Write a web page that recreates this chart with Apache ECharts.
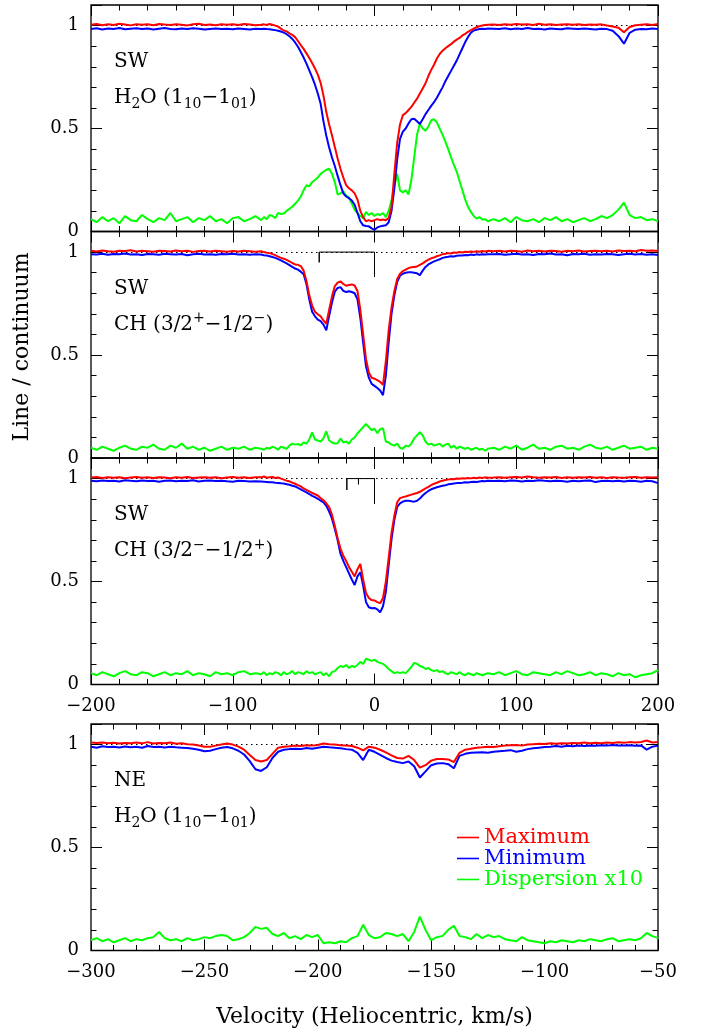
<!DOCTYPE html>
<html>
<head>
<meta charset="utf-8">
<title>Line / continuum</title>
<script src="https://cdn.jsdelivr.net/npm/echarts@6/dist/echarts.min.js"></script>
<style>
  html, body { margin: 0; padding: 0; background: #fff; }
  #chart { width: 703px; height: 1034px; }
</style>
</head>
<body>
<div id="chart"></div>
<script>
// VELOCITY GRIDS (km/s): coarse wings, finer core
const vSW = []
for (let v = -200; v < -80; v += 4) vSW.push(v)
for (let v = -80; v <= 80; v += 2) vSW.push(v)
for (let v = 84; v <= 200; v += 4) vSW.push(v)

const vNE = []
for (let v = -300; v <= -50; v += 2.5) vNE.push(v)

// SW H2O 1_10-1_01
const swH2oMax = [
  1.004, 1.008, 1.002, 1.006, 1.003, 1.009, 1.005, 1.001, 1.007, 1.004,
  1.006, 1.002, 1.008, 1.005, 1.003, 1.007, 1.004, 1.001, 1.006, 1.009,
  1.003, 1.005, 1.002, 1.007, 1.004, 1.006, 1.003, 1.008, 1.005, 1.002,
  1.004, 1.006, 1.003, 1.008, 1.004, 1.000, 0.995, 0.985, 0.976, 0.972,
  0.962, 0.955, 0.944, 0.925, 0.905, 0.887, 0.865, 0.843, 0.818, 0.792,
  0.762, 0.722, 0.660, 0.580, 0.520, 0.467, 0.410, 0.355, 0.305, 0.262,
  0.225, 0.210, 0.200, 0.185, 0.155, 0.100, 0.070, 0.050, 0.055, 0.050,
  0.055, 0.060, 0.055, 0.058, 0.055, 0.065, 0.120, 0.280, 0.430, 0.520,
  0.565, 0.575, 0.590, 0.605, 0.625, 0.645, 0.670, 0.695, 0.720, 0.755,
  0.785, 0.810, 0.840, 0.862, 0.878, 0.890, 0.900, 0.910, 0.922, 0.932,
  0.940, 0.952, 0.960, 0.970, 0.978, 0.985, 0.992, 0.997, 1.000, 1.003,
  1.004,
  1.005, 1.003, 1.007, 1.004, 1.008, 1.005, 1.006, 1.003, 1.009, 1.004,
  1.006, 1.003, 1.005, 1.007, 1.004, 1.006, 1.003, 1.005, 1.004, 1.006,
  1.000, 0.996, 0.990, 0.968, 0.993, 1.002, 1.004, 1.006, 1.003, 1.008
]
const swH2oMin = [
  0.983, 0.987, 0.981, 0.986, 0.984, 0.988, 0.982, 0.985, 0.987, 0.983,
  0.986, 0.981, 0.985, 0.988, 0.984, 0.982, 0.986, 0.983, 0.987, 0.985,
  0.981, 0.984, 0.986, 0.983, 0.985, 0.982, 0.986, 0.984, 0.981, 0.985,
  0.984, 0.985, 0.983, 0.982, 0.980, 0.978, 0.975, 0.971, 0.966, 0.958,
  0.948, 0.935, 0.918, 0.897, 0.872, 0.845, 0.815, 0.783, 0.750, 0.713,
  0.670, 0.620, 0.535, 0.465, 0.408, 0.360, 0.318, 0.270, 0.225, 0.185,
  0.170, 0.162, 0.150, 0.130, 0.090, 0.050, 0.030, 0.027, 0.025, 0.015,
  0.008, 0.020, 0.025, 0.028, 0.030, 0.045, 0.100, 0.210, 0.350, 0.450,
  0.485, 0.500, 0.525, 0.545, 0.548, 0.535, 0.522, 0.545, 0.570, 0.590,
  0.610, 0.628, 0.650, 0.675, 0.700, 0.730, 0.755, 0.780, 0.805, 0.830,
  0.860, 0.890, 0.920, 0.945, 0.965, 0.976, 0.980, 0.983, 0.985, 0.984,
  0.986,
  0.985, 0.983, 0.987, 0.982, 0.986, 0.984, 0.988, 0.983, 0.985, 0.981,
  0.986, 0.984, 0.982, 0.987, 0.985, 0.983, 0.986, 0.984, 0.981, 0.985,
  0.983, 0.975, 0.950, 0.912, 0.965, 0.980, 0.984, 0.982, 0.986, 0.983
]
const swH2oDisp = [
  0.060, 0.045, 0.070, 0.050, 0.065, 0.040, 0.075, 0.055, 0.050, 0.080,
  0.060, 0.045, 0.065, 0.055, 0.090, 0.050, 0.060, 0.070, 0.045, 0.065,
  0.055, 0.075, 0.050, 0.060, 0.040, 0.065, 0.070, 0.050, 0.060, 0.075,
  0.055, 0.070, 0.060, 0.080, 0.075, 0.065, 0.090, 0.085, 0.087, 0.100,
  0.110, 0.120, 0.135, 0.150, 0.170, 0.200, 0.225, 0.220, 0.240, 0.250,
  0.262, 0.280, 0.290, 0.300, 0.305, 0.280, 0.240, 0.180, 0.185, 0.195,
  0.175, 0.165, 0.135, 0.105, 0.090, 0.075, 0.065, 0.095, 0.080, 0.090,
  0.075, 0.085, 0.080, 0.090, 0.070, 0.100, 0.150, 0.220, 0.280, 0.200,
  0.190, 0.200, 0.180, 0.250, 0.360, 0.470, 0.525, 0.500, 0.490, 0.510,
  0.540, 0.545, 0.530, 0.500, 0.470, 0.435, 0.400, 0.360, 0.325, 0.290,
  0.245, 0.200, 0.155, 0.120, 0.095, 0.075, 0.063, 0.070, 0.058, 0.060,
  0.050,
  0.060, 0.050, 0.065, 0.045, 0.070, 0.055, 0.050, 0.060, 0.045, 0.065,
  0.055, 0.070, 0.050, 0.060, 0.045, 0.055, 0.065, 0.050, 0.060, 0.075,
  0.065, 0.080, 0.105, 0.140, 0.080, 0.065, 0.070, 0.055, 0.060, 0.050
]

// SW CH 3/2+ - 1/2-
const swChPMax = [
  1.006, 1.003, 1.008, 1.004, 1.002, 1.007, 1.005, 1.009, 1.003, 1.006,
  1.004, 1.002, 1.007, 1.005, 1.003, 1.008, 1.004, 1.006, 1.001, 1.005,
  1.007, 1.003, 1.006, 1.004, 1.002, 1.005, 1.003, 1.006, 1.004, 1.002,
  1.004, 1.000, 0.997, 0.995, 0.990, 0.985, 0.978, 0.972, 0.968, 0.962,
  0.955, 0.947, 0.940, 0.938, 0.932, 0.910, 0.860, 0.790, 0.740, 0.710,
  0.698, 0.688, 0.668, 0.652, 0.720, 0.785, 0.835, 0.852, 0.858, 0.845,
  0.837, 0.840, 0.843, 0.838, 0.810, 0.720, 0.600, 0.480, 0.415, 0.390,
  0.385, 0.378, 0.370, 0.355, 0.470, 0.620, 0.730, 0.810, 0.870, 0.895,
  0.908, 0.915, 0.922, 0.926, 0.928, 0.930, 0.938, 0.945, 0.955, 0.963,
  0.970, 0.974, 0.980, 0.984, 0.990, 0.992, 0.995, 0.993, 0.998, 0.997,
  1.000, 0.998, 1.002, 1.000, 1.003, 1.001, 1.004, 1.002, 1.005, 1.003,
  1.006,
  1.004, 1.007, 1.003, 1.006, 1.005, 1.002, 1.008, 1.004, 1.006, 1.003,
  1.007, 1.005, 1.002, 1.006, 1.004, 1.008, 1.003, 1.005, 1.007, 1.004,
  1.006, 1.003, 1.008, 1.005, 1.007, 1.004, 1.010, 1.006, 1.008, 1.005
]
const swChPMin = [
  0.990, 0.988, 0.992, 0.987, 0.991, 0.989, 0.993, 0.988, 0.990, 0.986,
  0.991, 0.989, 0.987, 0.992, 0.990, 0.988, 0.991, 0.985, 0.990, 0.992,
  0.988, 0.990, 0.987, 0.991, 0.989, 0.992, 0.988, 0.990, 0.987, 0.990,
  0.988, 0.985, 0.983, 0.980, 0.976, 0.972, 0.966, 0.960, 0.952, 0.945,
  0.937, 0.928, 0.920, 0.915, 0.905, 0.892, 0.845, 0.770, 0.710, 0.688,
  0.672, 0.665, 0.648, 0.620, 0.690, 0.755, 0.808, 0.826, 0.830, 0.812,
  0.806, 0.810, 0.806, 0.800, 0.770, 0.680, 0.560, 0.445, 0.390, 0.360,
  0.350, 0.340, 0.328, 0.305, 0.400, 0.560, 0.700, 0.790, 0.855, 0.885,
  0.895, 0.900, 0.902, 0.902, 0.900, 0.897, 0.888, 0.910, 0.928, 0.940,
  0.948, 0.955, 0.960, 0.965, 0.972, 0.975, 0.977, 0.980, 0.979, 0.982,
  0.984, 0.983, 0.986, 0.985, 0.988, 0.986, 0.989, 0.987, 0.990, 0.988,
  0.990,
  0.989, 0.991, 0.987, 0.990, 0.992, 0.988, 0.990, 0.986, 0.991, 0.989,
  0.993, 0.988, 0.990, 0.985, 0.991, 0.989, 0.992, 0.987, 0.990, 0.988,
  0.991, 0.989, 0.986, 0.990, 0.992, 0.988, 0.991, 0.987, 0.990, 0.986
]
const swChPDisp = [
  0.050, 0.040, 0.055, 0.045, 0.035, 0.050, 0.060, 0.045, 0.040, 0.055,
  0.050, 0.065, 0.045, 0.040, 0.060, 0.050, 0.070, 0.045, 0.055, 0.040,
  0.050, 0.035, 0.045, 0.055, 0.040, 0.050, 0.045, 0.055, 0.040, 0.050,
  0.045, 0.040, 0.050, 0.045, 0.055, 0.050, 0.040, 0.055, 0.050, 0.045,
  0.060, 0.070, 0.065, 0.068, 0.062, 0.075, 0.070, 0.090, 0.125, 0.090,
  0.085, 0.080, 0.095, 0.130, 0.085, 0.075, 0.070, 0.072, 0.095, 0.075,
  0.080, 0.070, 0.090, 0.100, 0.120, 0.135, 0.150, 0.165, 0.150, 0.135,
  0.142, 0.120, 0.140, 0.145, 0.080, 0.075, 0.065, 0.060, 0.070, 0.050,
  0.045, 0.060, 0.055, 0.070, 0.095, 0.110, 0.125, 0.110, 0.080, 0.065,
  0.070, 0.060, 0.065, 0.070, 0.055, 0.065, 0.070, 0.050, 0.060, 0.045,
  0.055, 0.050, 0.045, 0.050, 0.040, 0.045, 0.050, 0.040, 0.045, 0.035,
  0.045,
  0.050, 0.040, 0.055, 0.045, 0.060, 0.040, 0.050, 0.065, 0.045, 0.050,
  0.040, 0.055, 0.060, 0.045, 0.050, 0.040, 0.055, 0.065, 0.050, 0.045,
  0.055, 0.040, 0.050, 0.060, 0.045, 0.050, 0.055, 0.040, 0.050, 0.045
]

// SW CH 3/2- - 1/2+
const swChMMax = [
  1.005, 1.008, 1.003, 1.006, 1.004, 1.007, 1.002, 1.005, 1.008, 1.004,
  1.006, 1.003, 1.007, 1.005, 1.002, 1.006, 1.004, 1.008, 1.003, 1.005,
  1.007, 1.004, 1.006, 1.002, 1.005, 1.008, 1.004, 1.006, 1.003, 1.007,
  1.006, 1.010, 1.004, 1.006, 1.008, 1.003, 1.005, 1.000, 0.995, 0.990,
  0.987, 0.980, 0.975, 0.968, 0.962, 0.952, 0.945, 0.938, 0.930, 0.924,
  0.918, 0.905, 0.895, 0.880, 0.862, 0.825, 0.770, 0.710, 0.660, 0.625,
  0.600, 0.570, 0.548, 0.525, 0.560, 0.585, 0.510, 0.445, 0.420, 0.410,
  0.408, 0.400, 0.395, 0.420, 0.500, 0.615, 0.735, 0.820, 0.885, 0.905,
  0.910, 0.913, 0.918, 0.922, 0.926, 0.930, 0.936, 0.944, 0.952, 0.960,
  0.968, 0.975, 0.980, 0.986, 0.990, 0.993, 0.995, 0.998, 0.997, 1.000,
  0.999, 1.002, 1.000, 1.003, 1.001, 1.004, 1.002, 1.005, 1.003, 1.006,
  1.004,
  1.005, 1.007, 1.004, 1.006, 1.008, 1.005, 1.010, 1.006, 1.004, 1.007,
  1.005, 1.008, 1.003, 1.006, 1.004, 1.007, 1.005, 1.008, 1.004, 1.006,
  1.003, 1.007, 1.005, 1.004, 1.006, 1.008, 1.004, 1.006, 1.005, 1.007
]
const swChMMin = [
  0.990, 0.987, 0.991, 0.988, 0.990, 0.986, 0.992, 0.989, 0.987, 0.991,
  0.988, 0.990, 0.985, 0.989, 0.991, 0.987, 0.990, 0.988, 0.992, 0.986,
  0.989, 0.991, 0.988, 0.990, 0.987, 0.985, 0.989, 0.988, 0.986, 0.987,
  0.986, 0.985, 0.984, 0.982, 0.982, 0.980, 0.979, 0.977, 0.976, 0.973,
  0.970, 0.965, 0.962, 0.955, 0.948, 0.940, 0.933, 0.925, 0.916, 0.910,
  0.902, 0.893, 0.885, 0.868, 0.840, 0.805, 0.755, 0.700, 0.635, 0.600,
  0.570, 0.540, 0.510, 0.483, 0.525, 0.545, 0.480, 0.400, 0.375, 0.370,
  0.372, 0.365, 0.350, 0.380, 0.450, 0.580, 0.705, 0.800, 0.862, 0.880,
  0.888, 0.892, 0.893, 0.890, 0.888, 0.892, 0.903, 0.918, 0.930, 0.940,
  0.948, 0.953, 0.958, 0.962, 0.965, 0.968, 0.972, 0.974, 0.976, 0.978,
  0.979, 0.980, 0.982, 0.981, 0.983, 0.985, 0.984, 0.986, 0.988, 0.987,
  0.989,
  0.988, 0.990, 0.987, 0.991, 0.989, 0.986, 0.990, 0.988, 0.992, 0.989,
  0.987, 0.990, 0.988, 0.985, 0.990, 0.987, 0.989, 0.991, 0.983, 0.988,
  0.990, 0.987, 0.989, 0.986, 0.990, 0.988, 0.985, 0.989, 0.987, 0.978
]
const swChMDisp = [
  0.055, 0.045, 0.060, 0.050, 0.040, 0.055, 0.065, 0.050, 0.045, 0.060,
  0.055, 0.040, 0.050, 0.060, 0.045, 0.055, 0.050, 0.065, 0.045, 0.055,
  0.050, 0.040, 0.060, 0.050, 0.055, 0.045, 0.060, 0.065, 0.050, 0.055,
  0.050, 0.060, 0.045, 0.055, 0.050, 0.060, 0.055, 0.045, 0.060, 0.050,
  0.055, 0.065, 0.050, 0.060, 0.055, 0.050, 0.065, 0.055, 0.060, 0.050,
  0.055, 0.060, 0.045, 0.055, 0.040, 0.060, 0.065, 0.080, 0.090, 0.085,
  0.095, 0.080, 0.090, 0.085, 0.095, 0.110, 0.100, 0.125, 0.120, 0.115,
  0.120, 0.110, 0.105, 0.100, 0.090, 0.075, 0.065, 0.055, 0.060, 0.055,
  0.060, 0.055, 0.070, 0.085, 0.105, 0.100, 0.090, 0.085, 0.075, 0.080,
  0.070, 0.065, 0.070, 0.060, 0.065, 0.055, 0.050, 0.060, 0.055, 0.050,
  0.060, 0.050, 0.045, 0.055, 0.050, 0.045, 0.055, 0.050, 0.045, 0.050,
  0.055,
  0.050, 0.060, 0.045, 0.055, 0.065, 0.050, 0.045, 0.060, 0.055, 0.050,
  0.045, 0.060, 0.050, 0.065, 0.055, 0.045, 0.050, 0.060, 0.045, 0.055,
  0.050, 0.040, 0.055, 0.045, 0.050, 0.035, 0.045, 0.050, 0.055, 0.070
]

// NE H2O 1_10-1_01
const neH2oMax = [
  1.010, 1.008, 1.010, 1.006, 1.009, 1.005, 1.008, 1.007, 1.010, 1.006,
  1.012, 1.005, 1.008, 1.006, 1.010, 1.004, 1.006, 1.002, 1.000, 0.996,
  0.990, 0.990, 0.995, 1.000, 1.005, 1.000, 0.990, 0.975, 0.950, 0.925,
  0.918, 0.925, 0.955, 0.985, 0.990, 0.992, 0.995, 0.993, 0.997, 0.995,
  0.998, 1.005, 1.002, 1.000, 0.997, 0.995, 0.993, 0.985, 0.972, 0.990,
  0.985, 0.975, 0.962, 0.948, 0.935, 0.932, 0.945, 0.925, 0.888, 0.900,
  0.922, 0.930, 0.930, 0.928, 0.915, 0.960, 0.975, 0.980, 0.985, 0.987,
  0.990, 0.988, 0.992, 0.995, 0.997, 0.998, 0.995, 1.000, 1.002, 1.004,
  1.003, 1.006, 1.004, 1.007, 1.005, 1.008, 1.006, 1.010, 1.007, 1.009,
  1.006, 1.010, 1.008, 1.011, 1.009, 1.012, 1.010, 1.013, 1.020, 1.010,
  1.012
]
const neH2oMin = [
  0.990, 0.985, 0.992, 0.988, 0.990, 0.986, 0.991, 0.987, 0.990, 0.985,
  0.993, 0.988, 0.990, 0.986, 0.990, 0.987, 0.985, 0.983, 0.980, 0.975,
  0.968, 0.970, 0.978, 0.985, 0.988, 0.982, 0.970, 0.952, 0.920, 0.880,
  0.872, 0.890, 0.935, 0.965, 0.975, 0.978, 0.980, 0.978, 0.983, 0.980,
  0.985, 0.990, 0.987, 0.985, 0.982, 0.978, 0.975, 0.960, 0.925, 0.975,
  0.965, 0.950, 0.935, 0.922, 0.915, 0.910, 0.918, 0.895, 0.840, 0.870,
  0.900, 0.908, 0.910, 0.905, 0.885, 0.945, 0.955, 0.960, 0.962, 0.963,
  0.960, 0.965, 0.968, 0.970, 0.973, 0.965, 0.970, 0.978, 0.982, 0.985,
  0.988, 0.990, 0.993, 0.990, 0.994, 0.992, 0.995, 0.993, 0.996, 0.994,
  0.997, 0.995, 0.998, 0.996, 0.995, 0.997, 0.994, 0.996, 0.975, 0.990,
  0.995
]
const neH2oDisp = [
  0.050, 0.060, 0.045, 0.055, 0.040, 0.050, 0.060, 0.045, 0.055, 0.050,
  0.060, 0.065, 0.090, 0.060, 0.050, 0.055, 0.045, 0.060, 0.050, 0.055,
  0.065, 0.060, 0.070, 0.075, 0.070, 0.050, 0.055, 0.065, 0.085, 0.115,
  0.105, 0.110, 0.080, 0.070, 0.085, 0.060, 0.070, 0.055, 0.075, 0.065,
  0.075, 0.035, 0.040, 0.035, 0.045, 0.040, 0.060, 0.070, 0.125, 0.075,
  0.060, 0.065, 0.085, 0.080, 0.070, 0.080, 0.045, 0.090, 0.165, 0.100,
  0.050, 0.065, 0.070, 0.100, 0.120, 0.070, 0.065, 0.055, 0.080, 0.060,
  0.075, 0.065, 0.070, 0.055, 0.050, 0.045, 0.065, 0.050, 0.045, 0.040,
  0.035, 0.045, 0.040, 0.050, 0.045, 0.040, 0.050, 0.045, 0.055, 0.050,
  0.045, 0.055, 0.060, 0.045, 0.050, 0.055, 0.050, 0.060, 0.085, 0.070,
  0.060
]

// CH hyperfine components: velocity and drawn depth of each marker
const chPlusHfsVel = [-39, 0]
const chPlusHfsDepth = [0.95, 0.88]
const chMinusHfsVel = [-19.5, -11.3, 0]
const chMinusHfsDepth = [0.945, 0.972, 0.877]

// tick labels
const levelLabels = { 0: '0', 0.5: '0.5', 1: '1' }

//UTILS
const FONT = 'DejaVu Serif'
const RED = '#ff0000'
const BLUE = '#0000ff'
const GREEN = '#00ff00'

const pairs = (xs, ys) => xs.map((x, i) => [x, ys[i]])

const hfsPath = (vel, depth) => {
  const pts = []
  vel.forEach((v, i) => pts.push([v, 1], [v, depth[i]], [v, 1]))
  return pts
}

const fmtVel = v => (v < 0 ? '\u2212' + Math.abs(v) : String(v))
const fmtLevel = v => levelLabels[v] || ''

// line names, {b|..} = subscript, {p|..} = superscript
const H2O_LINE = 'H{b|2}O (1{b|10}\u22121{b|01})'
const CH_PLUS_LINE = 'CH (3/2{p|+}\u22121/2{p|\u2212})'
const CH_MINUS_LINE = 'CH (3/2{p|\u2212}\u22121/2{p|+})'

//PANELS
const panels = [
  { top: 5, vel: vSW, ext: [-200, 200, 100], max: swH2oMax, min: swH2oMin, disp: swH2oDisp,
    region: 'SW', line: H2O_LINE },
  { top: 231.5, vel: vSW, ext: [-200, 200, 100], max: swChPMax, min: swChPMin, disp: swChPDisp,
    region: 'SW', line: CH_PLUS_LINE, hfs: [chPlusHfsVel, chPlusHfsDepth] },
  { top: 458, vel: vSW, ext: [-200, 200, 100], max: swChMMax, min: swChMMin, disp: swChMDisp,
    region: 'SW', line: CH_MINUS_LINE, hfs: [chMinusHfsVel, chMinusHfsDepth], labels: true },
  { top: 724, vel: vNE, ext: [-300, -50, 50], max: neH2oMax, min: neH2oMin, disp: neH2oDisp,
    region: 'NE', line: H2O_LINE, labels: true, title: true }
]

const tickLine = { color: '#000', width: 1 }

const xAxisFor = (p, i, position) => ({
  type: 'value', gridIndex: i, position,
  min: p.ext[0], max: p.ext[1], interval: p.ext[2],
  axisLine: { show: false, onZero: false },
  axisTick: { inside: true, length: 11, lineStyle: tickLine },
  minorTick: { show: true, splitNumber: 5, length: 5.5, lineStyle: tickLine },
  splitLine: { show: false },
  axisLabel: {
    show: position === 'bottom' && !!p.labels, margin: 13, formatter: fmtVel,
    color: '#000', fontFamily: FONT, fontSize: 18
  },
  name: position === 'bottom' && p.title ? 'Velocity (Heliocentric, km/s)' : '',
  nameLocation: 'middle', nameGap: 56,
  nameTextStyle: { color: '#000', fontFamily: FONT, fontSize: 22 }
})

const yAxisFor = (i, position, major) => ({
  type: 'value', gridIndex: i, position,
  min: 0, max: 1.1, interval: major ? 0.5 : 0.1,
  axisLine: { show: false, onZero: false },
  axisTick: { inside: true, length: major ? 11 : 5.5, lineStyle: tickLine },
  splitLine: { show: false },
  axisLabel: {
    show: major && position === 'left', margin: 12, formatter: fmtLevel,
    color: '#000', fontFamily: FONT, fontSize: 18
  }
})

const seriesFor = (p, i) => {
  const axes = { xAxisIndex: 2 * i, yAxisIndex: 4 * i }
  const base = { type: 'line', symbol: 'none', silent: true, animation: false, ...axes }
  const list = [
    { ...base, name: 'Dispersion x10', data: pairs(p.vel, p.disp), z: 2,
      lineStyle: { color: GREEN, width: 2 }, itemStyle: { color: GREEN },
      markLine: {
        silent: true, symbol: 'none', z: 1, animation: false, label: { show: false },
        lineStyle: { color: '#000', width: 1, type: [1.5, 3.5] },
        data: [{ yAxis: 1 }]
      } },
    { ...base, name: 'Minimum', data: pairs(p.vel, p.min), z: 3,
      lineStyle: { color: BLUE, width: 2 }, itemStyle: { color: BLUE } },
    { ...base, name: 'Maximum', data: pairs(p.vel, p.max), z: 4,
      lineStyle: { color: RED, width: 2 }, itemStyle: { color: RED } }
  ]
  if (p.hfs) {
    list.push({ ...base, data: hfsPath(p.hfs[0], p.hfs[1]), z: 1,
      lineStyle: { color: '#000', width: 1 } })
  }
  return list
}

const textEl = (x, y, text, size, extra) => ({
  type: 'text', x, y, silent: true, ...extra,
  style: {
    text, fill: '#000', font: size + 'px "' + FONT + '"',
    align: 'left', textAlign: 'left', verticalAlign: 'middle', textVerticalAlign: 'middle',
    rich: {
      b: { fontFamily: FONT, fontSize: 14, fill: '#000', padding: [12, 0, 0, 0] },
      p: { fontFamily: FONT, fontSize: 14, fill: '#000', padding: [0, 0, 12, 0] }
    }
  }
})

const graphics = panels.flatMap(p => [
  textEl(114, p.top + 57, p.region, 20),
  textEl(114, p.top + 93, p.line, 20)
])
const yTitle = textEl(22, 347, 'Line / continuum', 22, { rotation: Math.PI / 2 })
yTitle.style.align = 'center'
yTitle.style.textAlign = 'center'
graphics.push(yTitle)

const option = {
  animation: false,
  backgroundColor: '#fff',
  textStyle: { fontFamily: FONT },
  grid: panels.map(p => ({
    left: 91, top: p.top, width: 567, height: 226.5,
    show: true, borderColor: '#000', borderWidth: 1.3, backgroundColor: 'transparent',
    outerBoundsMode: 'none'
  })),
  xAxis: panels.flatMap((p, i) => [xAxisFor(p, i, 'bottom'), xAxisFor(p, i, 'top')]),
  yAxis: panels.flatMap((p, i) => [
    yAxisFor(i, 'left', true), yAxisFor(i, 'left', false),
    yAxisFor(i, 'right', true), yAxisFor(i, 'right', false)
  ]),
  legend: {
    orient: 'vertical', left: 452, top: 822, itemWidth: 22, itemHeight: 1.6, itemGap: 0,
    icon: 'rect', selectedMode: false,
    textStyle: { fontFamily: FONT, fontSize: 21 },
    data: [
      { name: 'Maximum', textStyle: { color: RED } },
      { name: 'Minimum', textStyle: { color: BLUE } },
      { name: 'Dispersion x10', textStyle: { color: GREEN } }
    ]
  },
  graphic: graphics,
  series: panels.flatMap(seriesFor)
}

const chart = echarts.init(document.getElementById('chart'), null, { renderer: 'canvas' })
chart.setOption(option)
</script>
</body>
</html>
